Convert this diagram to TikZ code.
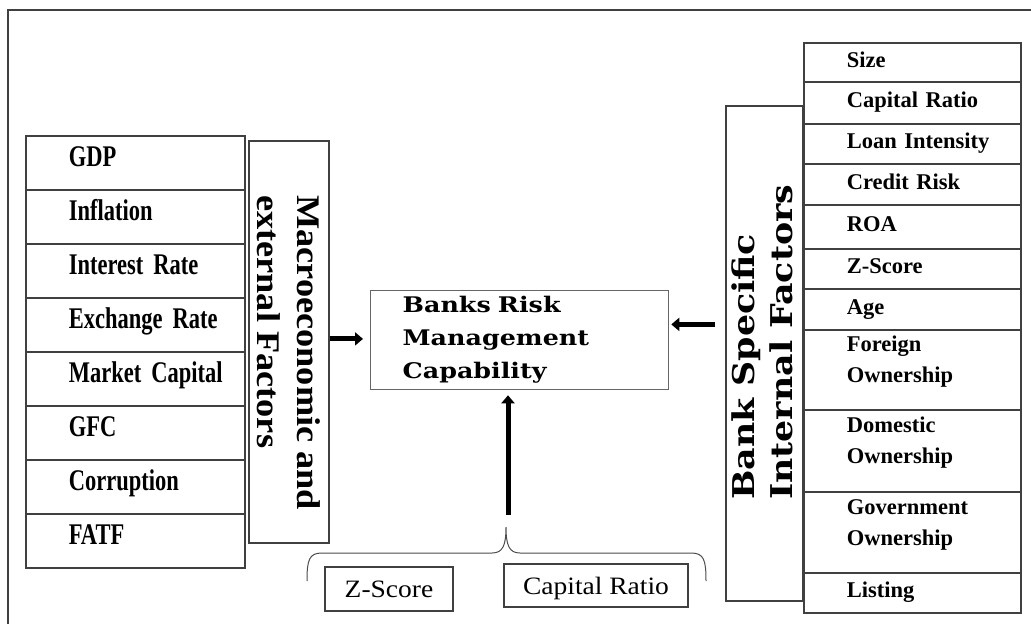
\documentclass[tikz,border=0pt]{standalone}
\usepackage{fontspec}
\setmainfont{Liberation Serif}
\newfontfamily\condserif[FakeStretch=0.75]{Liberation Serif}
\newfontfamily\stretchserif[FakeStretch=1.1]{Liberation Serif}
\newfontfamily\wideserif[FakeStretch=1.18]{DejaVu Serif}
\newfontfamily\bankserif[FakeStretch=1.16]{DejaVu Serif}
\protected\def\leftlistfont{\condserif\bfseries\fontsize{30}{34}\selectfont\spaceskip=5.6pt\relax}
\usetikzlibrary{arrows.meta}
\definecolor{linec}{gray}{0.25}
\tikzset{
  lrow/.style={draw=linec, line width=1.8pt, anchor=north west, minimum width=219pt,
    inner sep=0pt, text width=133pt, align=left,
    font=\leftlistfont, text height=22pt, text depth=14pt},
  rrow/.style={draw=linec, line width=1.8pt, anchor=north west, minimum width=217pt,
    inner sep=0pt, text width=131pt, align=left,
    font=\bfseries\fontsize{22.5}{31}\selectfont, text height=16pt, text depth=6pt},
  rrowtwo/.style={rrow, text depth=52pt},
  labbox/.style={draw=linec, line width=1.8pt, anchor=north west, inner sep=0pt},
  bbox/.style={draw=linec, line width=1.6pt, inner sep=0pt,
    font=\stretchserif\fontsize{25}{30}\selectfont, text height=17pt, text depth=0pt},
  bigarrow/.style={line width=5pt, -{Triangle[length=8pt,width=13pt]}},
}
\begin{document}
\begin{tikzpicture}[x=1pt,y=-1pt]
\useasboundingbox (0,0) rectangle (1031,624);
\draw[line width=2pt, linec] (1031,10) -- (8,10) -- (8,624);

% left list
\node[lrow, minimum height=54pt] (m1) at (25,135) {GDP};
\node[lrow, minimum height=54pt] (m2) at (25,189) {Inflation};
\node[lrow, minimum height=54pt] (m3) at (25,243) {\mbox{Interest Rate}};
\node[lrow, minimum height=54pt] (m4) at (25,297) {\mbox{Exchange Rate}};
\node[lrow, minimum height=54pt] (m5) at (25,351) {\mbox{Market Capital}};
\node[lrow, minimum height=54pt] (m6) at (25,405) {GFC};
\node[lrow, minimum height=54pt] (m7) at (25,459) {Corruption};
\node[lrow, minimum height=54pt] (m8) at (25,513) {FATF};

% macro label
\node[labbox, minimum width=80pt, minimum height=402pt] (macro) at (248,140) {};
\node[rotate=-90, anchor=west, align=left, inner sep=0pt,
  font=\stretchserif\bfseries\fontsize{33}{40}\selectfont] (macrotext) at (289,195)
  {Macroeconomic and\\external Factors};

% right list
\node[rrow, minimum height=39pt] (b1) at (803,42) {Size};
\node[rrow, minimum height=42pt] (b2) at (803,81) {\mbox{Capital Ratio}};
\node[rrow, minimum height=40pt] (b3) at (803,123) {\mbox{Loan Intensity}};
\node[rrow, minimum height=41pt] (b4) at (803,163) {\mbox{Credit Risk}};
\node[rrow, minimum height=44pt] (b5) at (803,204) {ROA};
\node[rrow, minimum height=40pt] (b6) at (803,248) {Z-Score};
\node[rrow, minimum height=41pt] (b7) at (803,288) {Age};
\node[rrowtwo, minimum height=80pt] (b8) at (803,329) {Foreign\\Ownership};
\node[rrowtwo, minimum height=82pt] (b9) at (803,409) {Domestic\\Ownership};
\node[rrowtwo, minimum height=81pt] (b10) at (803,491) {Government\\Ownership};
\node[rrow, minimum height=40pt] (b11) at (803,572) {Listing};

% bank label
\node[labbox, minimum width=77pt, minimum height=495pt] (bank) at (725,105) {};
\node[rotate=90, anchor=west, align=left, inner sep=0pt,
  font=\bankserif\bfseries\fontsize{30}{38}\selectfont] (banktext) at (762.5,500)
  {Bank Specific\\Internal Factors};

% center box
\node[draw=black!60, line width=1.3pt, anchor=north west, minimum width=298pt,
  minimum height=99pt, inner sep=0pt, text width=234pt, align=left,
  font=\wideserif\bfseries\fontsize{21.5}{33}\selectfont] (brm) at (370,290)
  {Banks Risk\\Management\\Capability};

% bottom boxes
\node[bbox, minimum width=128pt, minimum height=44pt] (zs) at (389,589) {Z-Score};
\node[bbox, minimum width=184pt, minimum height=43pt] (cr) at (596,585.5) {Capital Ratio};

% brace
\coordinate (tip) at (506,527);
\draw[line width=1pt, black!70] (307,581) .. controls (307,560) and (309,553) .. (322,553)
  -- (492,553) .. controls (503,553) and (506,545) .. (tip)
  .. controls (506,545) and (509,553) .. (520,553)
  -- (691,553) .. controls (704,553) and (706,560) .. (706,581);

% arrows
\coordinate (la) at ([yshift=3pt]macro.east);
\draw[bigarrow, shorten >=7pt] (la) -- (la -| brm.west);
\coordinate (ra) at ([yshift=29pt]bank.west);
\draw[bigarrow, shorten <=10pt, shorten >=2pt] (ra) -- (ra -| brm.east);
\coordinate (tipa) at ([xshift=2pt]tip);
\draw[bigarrow, shorten <=12pt, shorten >=5pt] (tipa) -- (tipa |- brm.south);
\end{tikzpicture}
\end{document}
